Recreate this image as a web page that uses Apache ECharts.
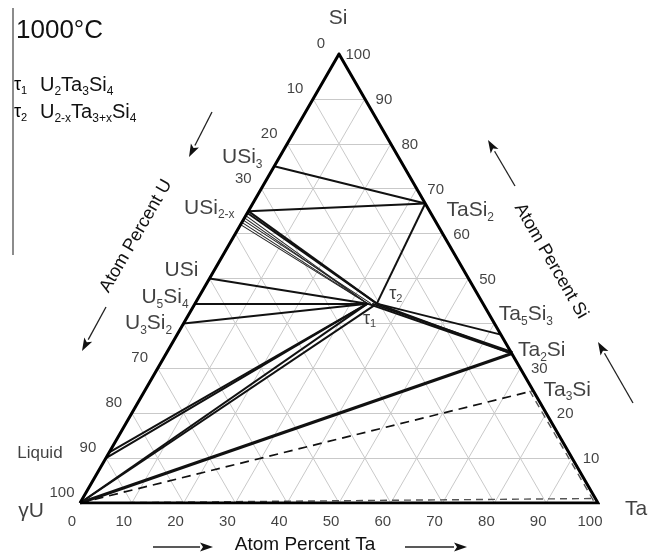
<!DOCTYPE html>
<html><head><meta charset="utf-8">
<script src="https://cdn.jsdelivr.net/npm/echarts@6/dist/echarts.min.js"></script>
<style>html,body{margin:0;padding:0;background:#fff}#c{width:656px;height:555px}</style>
</head><body><div id="c"></div><script>
// ---- data (compositions given as [Ta %, Si %]; U = 100 - Ta - Si) ----
const gridSteps = [10, 20, 30, 40, 50, 60, 70, 80, 90];
const uTicks = [0, 10, 20, 30, 70, 80, 90, 100];          // Atom Percent U (left edge)
const siTicks = [100, 90, 80, 70, 60, 50, 30, 20, 10];    // Atom Percent Si (right edge)
const taTicks = [0, 10, 20, 30, 40, 50, 60, 70, 80, 90, 100]; // Atom Percent Ta (bottom)

const phaseNames = ['USi3', 'USi2-x', 'USi', 'U5Si4', 'U3Si2', 'Liquid', 'γU', 'TaSi2', 'Ta5Si3', 'Ta2Si', 'Ta3Si', 'Ta', 'Si', 'τ1', 'τ2'];
const phaseTa = [0, 0, 0, 0, 0, 0, 0, 33.3, 62.5, 66.7, 75, 100, 0, 33.3, 35.1];
const phaseSi = [75, 65, 50, 44.4, 40, 10, 0, 66.7, 37.5, 33.3, 25, 0, 100, 44.4, 44.4];

// tie lines: [Ta1, Si1, Ta2, Si2]
const tieSolid = [
  [0, 75, 33.3, 66.7],
  [0, 65, 33.3, 66.7],
  [33.3, 66.7, 35.1, 44.4],
  [0, 65, 35.1, 44.4],
  [0, 64.6, 35.1, 44.4],
  [0, 50, 33.3, 44.4],
  [0, 44.4, 33.3, 44.4],
  [0, 40, 33.3, 44.4],
  [35.1, 44.4, 62.5, 37.5],
  [35.1, 44.4, 66.7, 33.3],
  [33.3, 44.4, 66.7, 33.3],
  [34.2, 44.4, 66.7, 33.6],
  [0, 10, 33.3, 44.4],
  [0, 11.3, 33.3, 44.4],
  [0, 0, 33.3, 44.4],
  [0, 0, 34.8, 44.0]
];
const tieFan = [
  [0, 64.0, 33.3, 44.4],
  [0, 63.5, 33.3, 44.4],
  [0, 63.0, 34.0, 44.4],
  [0, 62.5, 33.3, 44.4],
  [0, 62.0, 33.3, 44.4]
];
const tieThick = [[0, 0, 66.7, 33.3]];
const tieDashed = [[0, 0, 75, 25]];
const solubilityDashed = [[74.3, 25, 99, 0.4], [0, 0, 98.6, 1.0]];
const outline = [[0, 0], [100, 0], [0, 100], [0, 0]];

// ---- presentation ----
const FONT = 'Liberation Sans, Arial, sans-serif';
const phaseText = {
  'USi3': 'USi{s|3}', 'USi2-x': 'USi{s|2-x}', 'USi': 'USi', 'U5Si4': 'U{s|5}Si{s|4}', 'U3Si2': 'U{s|3}Si{s|2}',
  'Liquid': '{l|Liquid}', 'γU': '{v|γU}', 'TaSi2': 'TaSi{s|2}', 'Ta5Si3': 'Ta{s|5}Si{s|3}', 'Ta2Si': 'Ta{s|2}Si',
  'Ta3Si': 'Ta{s|3}Si', 'Ta': '{v|Ta}', 'Si': '{v|Si}', 'τ1': '{t|τ}{ts|1}', 'τ2': '{t|τ}{ts|2}'
};
const phaseOffset = {
  'USi3': [-32, -9], 'USi2-x': [-39, -3], 'USi': [-28, -8], 'U5Si4': [-30, -6], 'U3Si2': [-35, 0],
  'Liquid': [-66, -5], 'γU': [-49, 8], 'TaSi2': [45, 7], 'Ta5Si3': [25, -20], 'Ta2Si': [30, -3],
  'Ta3Si': [34, -1], 'Ta': [38, 6], 'Si': [-1, -36], 'τ1': [2, 15], 'τ2': [19, -10]
};
const rich = {
  s: { fontSize: 12, fontFamily: FONT, color: '#111', verticalAlign: 'bottom', lineHeight: 26 },
  l: { fontSize: 17, fontFamily: FONT, color: '#111' },
  v: { fontSize: 21, fontFamily: FONT, color: '#111' },
  t: { fontSize: 18, fontFamily: FONT, color: '#111', lineHeight: 22 },
  ts: { fontSize: 11, fontFamily: FONT, color: '#111', verticalAlign: 'bottom', lineHeight: 22 }
};

function xy(ta, si) { return [ta + si / 2, si]; }
function seg(a) { return { coords: [xy(a[0], a[1]), xy(a[2], a[3])] }; }

const gridLines = [];
gridSteps.forEach(v => {
  gridLines.push(seg([0, v, 100 - v, v]));      // constant Si
  gridLines.push(seg([v, 0, v, 100 - v]));      // constant Ta
  gridLines.push(seg([100 - v, 0, 0, 100 - v])); // constant U
});

function linesSeries(arr, style) {
  return { type: 'lines', coordinateSystem: 'cartesian2d', silent: true, polyline: false,
    data: arr.map(seg), lineStyle: Object.assign({ opacity: 1, curveness: 0 }, style), z: style.z || 2 };
}

function tickItems(vals, toPos, off) {
  return vals.map(v => ({ value: toPos(v), label: { show: true, position: 'inside', formatter: String(v), offset: off,
    fontSize: 15, fontFamily: FONT, color: '#111' } }));
}

const labelData = [].concat(
  tickItems(uTicks, u => xy(0, 100 - u), [-18, -10]),
  tickItems(siTicks, s => xy(100 - s, s), [19, 1]),
  tickItems(taTicks, t => xy(t, 0), [-8, 19]),
  phaseNames.map((n, i) => ({ value: xy(phaseTa[i], phaseSi[i]), label: { show: true, position: 'inside',
    formatter: phaseText[n], offset: phaseOffset[n], fontSize: 21, lineHeight: 26, fontFamily: FONT, color: '#111', rich: rich } }))
);

function arrow(x1, y1, x2, y2) {
  const a = Math.atan2(y2 - y1, x2 - x1), L = 13, W = 4.5;
  const bx = x2 - L * Math.cos(a), by = y2 - L * Math.sin(a);
  return [
    { type: 'line', shape: { x1: x1, y1: y1, x2: bx, y2: by }, style: { stroke: '#222', lineWidth: 1.3 } },
    { type: 'polygon', shape: { points: [[x2, y2], [bx - W * Math.sin(a), by + W * Math.cos(a)], [bx + 3 * Math.cos(a), by + 3 * Math.sin(a)], [bx + W * Math.sin(a), by - W * Math.cos(a)]] }, style: { fill: '#111' } }
  ];
}

const graphics = [
  { type: 'line', shape: { x1: 13, y1: 8, x2: 13, y2: 255 }, style: { stroke: '#666', lineWidth: 1.5 } },
  { type: 'text', style: { x: 16, y: 31, text: '1000°C', fontSize: 26, fontFamily: FONT, fill: '#111', verticalAlign: 'middle' } },
  { type: 'text', style: { x: 14, y: 85, text: '{t|τ}{ts|1}', rich: rich, fontFamily: FONT, verticalAlign: 'middle' } },
  { type: 'text', style: { x: 40, y: 85, text: 'U{s|2}Ta{s|3}Si{s|4}', rich: rich, fontSize: 20, lineHeight: 26, fontFamily: FONT, fill: '#111', verticalAlign: 'middle' } },
  { type: 'text', style: { x: 14, y: 112, text: '{t|τ}{ts|2}', rich: rich, fontFamily: FONT, verticalAlign: 'middle' } },
  { type: 'text', style: { x: 40, y: 112, text: 'U{s|2-x}Ta{s|3+x}Si{s|4}', rich: rich, fontSize: 20, lineHeight: 26, fontFamily: FONT, fill: '#111', verticalAlign: 'middle' } },
  { type: 'text', x: 136, y: 236, rotation: Math.PI / 3, style: { x: 0, y: 0, text: 'Atom Percent U', fontSize: 18, fontFamily: FONT, fill: '#111', align: 'center', verticalAlign: 'middle' } },
  { type: 'text', x: 551, y: 261, rotation: -Math.PI / 3, style: { x: 0, y: 0, text: 'Atom Percent Si', fontSize: 18, fontFamily: FONT, fill: '#111', align: 'center', verticalAlign: 'middle' } },
  { type: 'text', style: { x: 305, y: 545, text: 'Atom Percent Ta', fontSize: 19, fontFamily: FONT, fill: '#111', align: 'center', verticalAlign: 'middle' } }
].concat(
  arrow(153, 547, 213, 547), arrow(405, 547, 467, 547),
  arrow(212, 112, 189, 157), arrow(106, 307, 82, 351),
  arrow(515, 186, 488, 140), arrow(633, 403, 598, 342)
);

const chart = echarts.init(document.getElementById('c'), null, { renderer: 'canvas' });
chart.setOption({
  animation: false,
  backgroundColor: '#fff',
  grid: { left: 80, top: 54, width: 518, height: 449 },
  xAxis: { type: 'value', min: 0, max: 100, show: false },
  yAxis: { type: 'value', min: 0, max: 100, show: false },
  series: [
    { type: 'lines', coordinateSystem: 'cartesian2d', silent: true, data: gridLines, lineStyle: { color: '#c9c9c9', width: 1, opacity: 1 }, z: 1 },
    linesSeries(tieFan, { color: '#222', width: 1.1 }),
    linesSeries(tieSolid, { color: '#111', width: 2 }),
    linesSeries(tieThick, { color: '#111', width: 3.2 }),
    linesSeries(tieDashed, { color: '#111', width: 1.7, type: [9, 6] }),
    linesSeries(solubilityDashed, { color: '#555', width: 1.4, type: [7, 5] }),
    { type: 'line', data: outline.map(p => xy(p[0], p[1])), symbol: 'none', silent: true, z: 5,
      lineStyle: { color: '#000', width: 3, join: 'miter' } },
    { type: 'scatter', symbolSize: 0, clip: false, silent: true, z: 6, data: labelData }
  ],
  graphic: graphics
});
</script></body></html>
